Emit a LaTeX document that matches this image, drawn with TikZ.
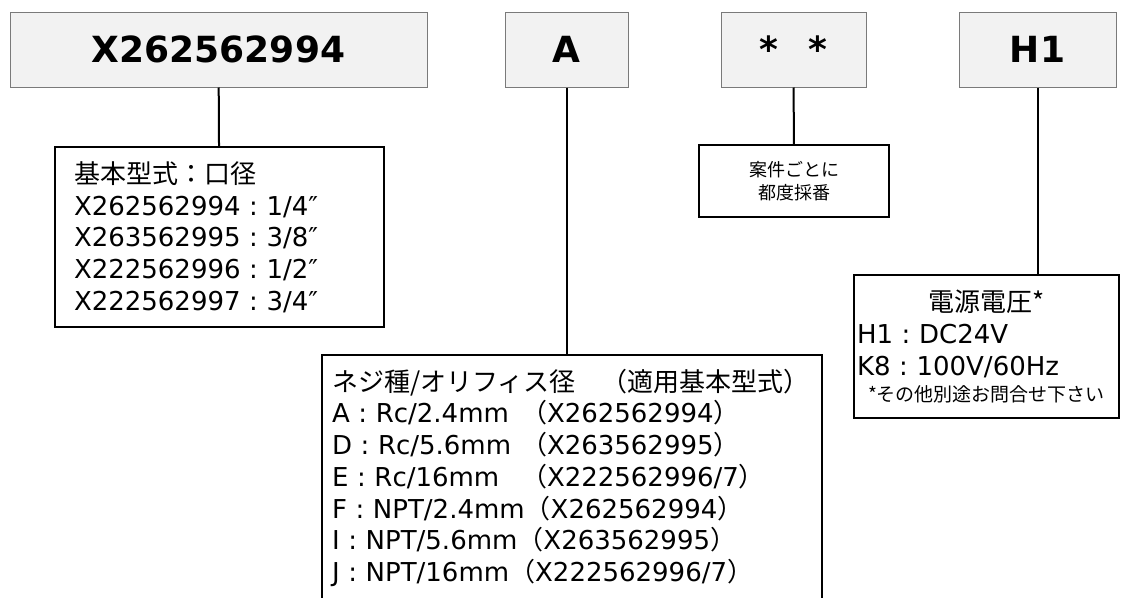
\documentclass[tikz,border=0pt]{standalone}
\usepackage{fontspec}
\setmainfont{DejaVu Sans}
\newfontfamily\jpf{Noto Sans CJK JP}
\newcommand{\jp}[1]{{\jpf #1}}
\newcommand{\cln}{\makebox[26pt]{:}}
\definecolor{headfill}{HTML}{F2F2F2}
\definecolor{headedge}{HTML}{7A7A7A}
\tikzset{
  head/.style={draw=headedge, fill=headfill, line width=1pt, minimum height=75pt,
    font=\fontsize{36}{40}\selectfont\bfseries},
  info/.style={draw=black, line width=2pt, font=\fontsize{26}{31.7}\selectfont},
  link/.style={line width=2pt}
}
\begin{document}
\begin{tikzpicture}[x=1pt, y=-1pt]
\useasboundingbox (0,0) rectangle (1137,597);
\node[head, minimum width=417pt] (B1) at (218.5,49.5) {X262562994};
\node[head, minimum width=123pt] (B2) at (566.5,49.5) {A};
\node[head, minimum width=145pt] (B3) at (793.5,49.5) {*\hspace{30pt}*};
\node[head, minimum width=157pt] (B4) at (1037.5,49.5) {H1};

\node[info, anchor=north west, inner xsep=19pt, text width=291pt, minimum height=180pt, align=left] (L1) at (54,146) {%
\jp{基本型式：口径}\\
X262562994\cln 1/4″\\
X263562995\cln 3/8″\\
X222562996\cln 1/2″\\
X222562997\cln 3/4″};
\node[info, anchor=north west, inner xsep=10pt, inner ysep=14pt, text width=480pt, align=left] (L2) at (321,354) {%
\jp{ネジ種/オリフィス径　（適用基本型式）}\\
\makebox[189pt][l]{A\cln Rc/2.4mm}\jp{（}X262562994\jp{）}\\
\makebox[189pt][l]{D\cln Rc/5.6mm}\jp{（}X263562995\jp{）}\\
\makebox[189pt][l]{E\cln Rc/16mm}\jp{（}X222562996/7\jp{）}\\
F\cln NPT/2.4mm\jp{（}X262562994\jp{）}\\
I\cln NPT/5.6mm\jp{（}X263562995\jp{）}\\
J\cln NPT/16mm\jp{（}X222562996/7\jp{）}};
\node[info, font=\fontsize{18}{23}\selectfont, minimum width=190pt, minimum height=72pt, align=center] (L3) at (794,181) {%
\jp{案件ごとに}\\\jp{都度採番}};
\node[info, text width=259pt, minimum height=143pt, align=center] (L4) at (986.5,346.5) {%
\jp{電源電圧*}\\
\makebox[259pt][l]{H1\cln DC24V}\\
\makebox[259pt][l]{K8\cln 100V/60Hz}\\[-6pt]
{\fontsize{19}{22}\selectfont\jp{*その他別途お問合せ下さい}}};

\draw[link] (B1) -- (L1);
\draw[link] (B2.south) -- (B2.south |- L2.north);
\draw[link] (B3) -- (L3);
\draw[link] (B4.south) -- (B4.south |- L4.north);
\end{tikzpicture}
\end{document}
